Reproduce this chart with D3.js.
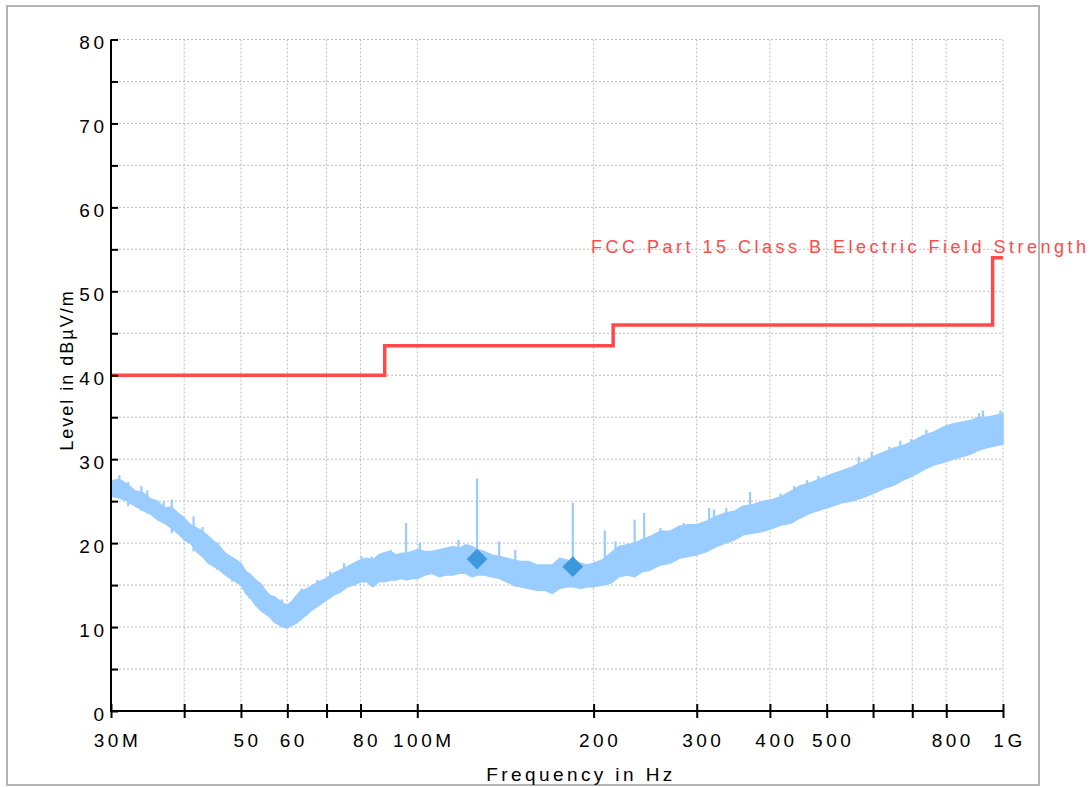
<!DOCTYPE html>
<html>
<head>
<meta charset="utf-8">
<title>Radiated emission scan</title>
<style>
    body { margin: 0; background: #fff; }
    svg text { font-family: "Liberation Sans", Arial, sans-serif; }
    .grid line { stroke: #bcbcbc; stroke-width: 1px; stroke-dasharray: 2,2; }
    .axis path, .axis line { stroke: #000; stroke-width: 2px; }
    .axis text { font-size: 19px; letter-spacing: 3.5px; fill: #000; }
</style>
</head>
<body>
<svg width="1092" height="787"></svg>
<script src="https://cdn.jsdelivr.net/npm/d3@7"></script>
<script>
// frequencies in MHz, levels in dBuV/m
var scanFreq = [30, 31, 32, 33, 34, 35, 36, 37, 38, 39, 40, 41, 42, 43, 44, 45, 46, 47, 48, 49,
    50, 51, 52, 53, 54, 55, 56, 57, 58, 59, 60, 61, 62, 63, 64, 65, 66, 68, 70, 72, 74, 76, 78,
    80, 82, 84, 86, 88, 90, 92, 94, 96, 98, 100, 103, 106, 109, 112, 115, 118, 121, 124, 127,
    130, 134, 138, 142, 146, 150, 155, 160, 165, 170, 175, 180, 185, 190, 195, 200, 207, 214,
    221, 228, 235, 242, 250, 260, 270, 280, 290, 300, 312, 324, 336, 348, 360, 375, 390, 405,
    420, 435, 450, 470, 490, 510, 530, 550, 575, 600, 625, 650, 675, 700, 730, 760, 790, 820,
    850, 880, 910, 940, 970, 1000];
var scanMax = [27.4, 27.6, 27.0, 26.2, 26.0, 25.3, 25.0, 24.2, 24.3, 23.6, 23.0, 22.2, 21.8, 21.4,
    20.8, 20.2, 19.6, 18.8, 18.4, 18.0, 17.6, 16.6, 16.2, 15.6, 15.2, 14.4, 13.8, 13.6, 13.2, 12.8,
    12.6, 13.0, 13.6, 14.2, 14.4, 14.6, 14.9, 15.4, 15.8, 16.4, 16.8, 17.2, 17.6, 18.0, 18.2, 18.0,
    18.6, 18.9, 19.0, 18.6, 18.8, 18.8, 19.0, 19.2, 19.0, 19.0, 19.2, 19.4, 19.6, 19.4, 19.8, 19.6,
    19.2, 19.0, 18.6, 18.4, 18.2, 18.0, 17.8, 17.8, 17.4, 17.4, 17.4, 18.2, 18.0, 17.6, 17.6, 17.4,
    17.6, 18.0, 18.8, 19.6, 19.8, 20.0, 20.4, 20.8, 21.4, 21.4, 22.0, 22.2, 22.2, 22.6, 23.2, 23.6,
    23.8, 24.4, 24.6, 25.0, 25.2, 25.6, 26.2, 26.8, 27.2, 27.7, 28.2, 28.6, 29.0, 29.6, 30.3, 30.8,
    31.3, 31.6, 32.1, 32.8, 33.2, 33.8, 34.2, 34.4, 34.6, 35.0, 35.0, 35.2, 35.4];
var scanMin = [25.6, 25.4, 25.0, 24.4, 23.9, 23.5, 22.8, 22.4, 21.8, 21.2, 20.4, 20.0, 19.0, 18.4,
    17.6, 17.2, 16.8, 16.2, 15.8, 15.4, 15.0, 14.0, 13.4, 12.6, 12.0, 11.6, 11.2, 10.6, 10.3, 10.0,
    9.9, 10.2, 10.4, 10.8, 11.2, 11.6, 12.0, 12.6, 13.2, 13.8, 14.2, 14.8, 15.0, 15.4, 15.4, 14.8,
    15.4, 15.4, 15.6, 15.6, 15.8, 15.6, 15.8, 15.8, 16.2, 16.4, 16.0, 16.2, 16.2, 16.4, 16.4, 16.0,
    16.2, 16.2, 16.0, 15.8, 15.4, 15.0, 14.8, 14.6, 14.4, 14.4, 14.0, 14.6, 14.8, 14.8, 14.6, 14.8,
    14.8, 15.0, 15.2, 16.0, 16.2, 16.0, 16.6, 16.8, 17.4, 17.6, 18.2, 18.4, 18.6, 19.0, 19.6, 20.0,
    20.4, 21.0, 21.2, 21.4, 21.8, 22.2, 22.4, 23.0, 23.6, 24.0, 24.4, 24.8, 25.0, 25.4, 25.9, 26.5,
    26.9, 27.5, 28.0, 28.7, 29.3, 29.6, 30.0, 30.3, 30.6, 31.1, 31.4, 31.6, 31.8];

// narrow spikes standing out of the noise floor
var spikeFreq = [31, 32.1, 33.8, 34.6, 36.9, 38.1, 41.5, 43, 45.6, 48.3, 51.7, 58.7, 63.5, 67.5,
    71, 75, 80.4, 83.6, 90.1, 95.7, 99.5, 101, 117.6, 126.5, 138, 147, 184.3, 209, 218, 235, 244,
    260, 278, 285, 315, 321, 337, 370, 417, 440, 463, 484, 567, 597, 640, 668, 697, 740, 910, 924, 990];
var spikeLevel = [28.1, 27.3, 26.8, 26.3, 25.0, 25.2, 23.2, 21.9, 20.1, 18.0, 16.4, 13.3, 14.6, 15.6,
    16.6, 17.6, 18.4, 18.4, 19.2, 22.4, 18.2, 20.1, 20.4, 27.7, 20.2, 19.2, 24.8, 21.5, 20.2, 22.8, 23.6,
    21.8, 21.6, 22.4, 24.2, 24.0, 24.2, 26.1, 25.9, 26.8, 27.5, 28.0, 30.3, 30.9, 31.5, 32.2, 32.4,
    33.5, 35.5, 35.8, 35.8];

// final measurement points
var markerFreq = [126.5, 184.3];
var markerLevel = [18.1, 17.2];

// limit line
var limitFreq = [30, 88, 88, 216, 216, 960, 960, 1000];
var limitLevel = [40, 40, 43.5, 43.5, 46, 46, 54, 54];
var limitName = "FCC Part 15 Class B Electric Field Strength";

var xTicks = [30, 40, 50, 60, 70, 80, 100, 200, 300, 400, 500, 600, 700, 800, 1000];
var xTickLabels = ["30M", "", "50", "60", "", "80", "100M", "200", "300", "400", "500", "", "", "800", "1G"];
var yTicks = [0, 5, 10, 15, 20, 25, 30, 35, 40, 45, 50, 55, 60, 65, 70, 75, 80];

var svg = d3.select("svg");
var plotL = 111, plotR = 1003, plotT = 39.5, plotB = 711;

var x = d3.scaleLog().domain([30, 1000]).range([plotL, plotR]);
var y = d3.scaleLinear().domain([0, 80]).range([plotB, plotT]);

// outer frame
svg.append("rect")
    .attr("x", 7).attr("y", 6).attr("width", 1032).attr("height", 779)
    .attr("fill", "none").attr("stroke", "#b4b4b4").attr("stroke-width", 2);

// grid
var grid = svg.append("g").attr("class", "grid");
grid.selectAll(".h").data(yTicks.filter(function (d) { return d > 0; }))
    .enter().append("line")
    .attr("x1", plotL).attr("x2", plotR)
    .attr("y1", function (d) { return y(d); }).attr("y2", function (d) { return y(d); });
grid.selectAll(".v").data(xTicks.slice(1))
    .enter().append("line")
    .attr("y1", plotT).attr("y2", plotB)
    .attr("x1", function (d) { return x(d); }).attr("x2", function (d) { return x(d); });

// measured trace as min/max band
var band = scanFreq.map(function (f, i) { return { f: f, hi: scanMax[i], lo: scanMin[i] }; });
var area = d3.area()
    .x(function (d) { return x(d.f); })
    .y0(function (d) { return y(d.lo); })
    .y1(function (d) { return y(d.hi); });
svg.append("path").datum(band)
    .attr("fill", "#99ccff")
    .attr("stroke", "#99ccff").attr("stroke-width", 1.5)
    .attr("d", area);

var bis = d3.bisector(function (d) { return d.f; }).left;
svg.append("g").selectAll("line")
    .data(spikeFreq.map(function (f, i) { return { f: f, v: spikeLevel[i] }; }))
    .enter().append("line")
    .attr("stroke", "#99ccff").attr("stroke-width", 2.2)
    .attr("x1", function (d) { return x(d.f); }).attr("x2", function (d) { return x(d.f); })
    .attr("y1", function (d) { return y(d.v); })
    .attr("y2", function (d) { return y(band[Math.min(bis(band, d.f), band.length - 1)].lo); });

// limit
var limit = limitFreq.map(function (f, i) { return [f, limitLevel[i]]; });
svg.append("path").datum(limit)
    .attr("fill", "none").attr("stroke", "#ff4a4a").attr("stroke-width", 3.5)
    .attr("d", d3.line().x(function (d) { return x(d[0]); }).y(function (d) { return y(d[1]); }));

svg.append("text")
    .attr("x", 591).attr("y", 253)
    .attr("fill", "#ff4a4a")
    .style("font-size", "18px").style("letter-spacing", "3.5px")
    .text(limitName);

// markers
svg.append("g").selectAll("path")
    .data(markerFreq.map(function (f, i) { return [f, markerLevel[i]]; }))
    .enter().append("path")
    .attr("fill", "#3d98de")
    .attr("transform", function (d) { return "translate(" + x(d[0]) + "," + y(d[1]) + ") rotate(45)"; })
    .attr("d", d3.symbol().type(d3.symbolSquare).size(215));

// axes
var xAxis = svg.append("g").attr("class", "axis")
    .attr("transform", "translate(0," + plotB + ")")
    .call(d3.axisBottom(x).tickValues(xTicks)
        .tickFormat(function (d, i) { return xTickLabels[i]; })
        .tickSizeOuter(0).tickSize(7));
xAxis.selectAll(".tick line").attr("y1", -7);
xAxis.selectAll(".tick text").attr("dy", 0).attr("y", 36).attr("dx", 6);
xAxis.select(".domain").attr("d", "M" + plotL + ",0H" + (plotR + 1));

var yAxis = svg.append("g").attr("class", "axis")
    .attr("transform", "translate(" + plotL + ",0)")
    .call(d3.axisLeft(y).tickValues(yTicks)
        .tickFormat(function (d) { return d % 10 === 0 ? d : ""; })
        .tickSizeOuter(0).tickSize(6));
yAxis.selectAll(".tick line").attr("x2", 7);
yAxis.selectAll(".tick text").attr("x", -3.5).attr("dy", 9);
yAxis.select(".domain").attr("d", "M0," + (plotB + 1) + "V" + plotT);

svg.append("text")
    .attr("x", 581).attr("y", 781)
    .attr("text-anchor", "middle")
    .style("font-size", "19px").style("letter-spacing", "3.4px")
    .text("Frequency in Hz");

svg.append("text")
    .attr("transform", "translate(73,370) rotate(-90)")
    .attr("text-anchor", "middle")
    .style("font-size", "18px").style("letter-spacing", "2px")
    .text("Level in dBµV/m");
</script>
</body>
</html>
